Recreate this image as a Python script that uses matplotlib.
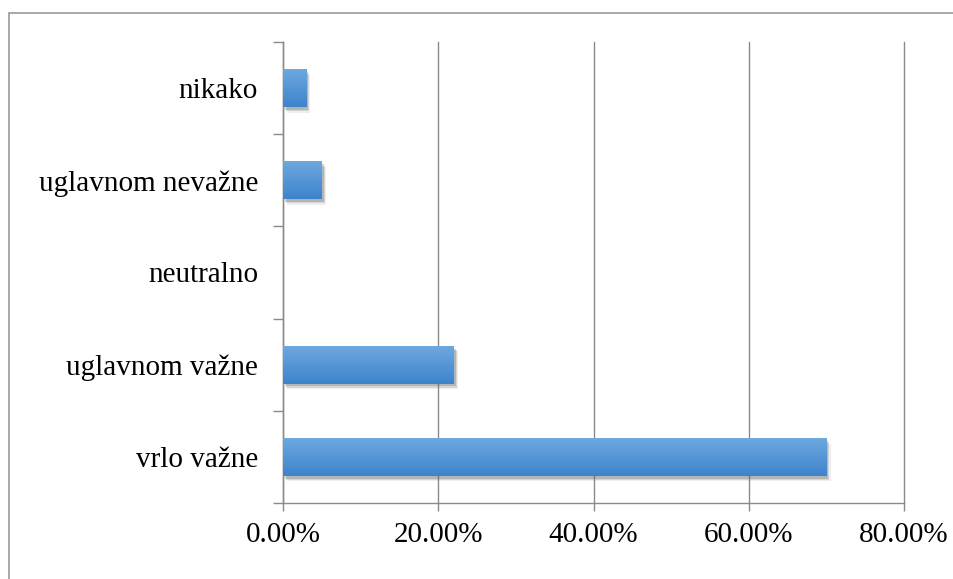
import matplotlib
matplotlib.use('Agg')
import matplotlib.pyplot as plt
import matplotlib.patheffects as pe
from matplotlib.patches import Rectangle
from matplotlib.ticker import FuncFormatter, FixedLocator
import numpy as np

categories = ['vrlo važne', 'uglavnom važne', 'neutralno', 'uglavnom nevažne', 'nikako']
shares = [70.0, 22.0, 0.0, 5.0, 3.0]
x_ticks = [0, 20, 40, 60, 80]

plt.rcParams['font.family'] = ['Liberation Serif', 'DejaVu Serif']

fig = plt.figure(figsize=(9.54, 5.79), dpi=100)
ax = fig.add_axes([283 / 954, 1 - 503 / 579, (904 - 283) / 954, (503 - 42) / 579])

# outer chart frame (runs off the right and bottom edges)
fig.patches.append(Rectangle((9 / 954, -0.05), 1.2, 1 - 13 / 579 + 0.05,
                             transform=fig.transFigure, fill=False,
                             edgecolor='#9a9a9a', linewidth=1.2))

y = np.arange(len(categories))
bars = ax.barh(y, shares, height=0.41, color='#4f8fd6', zorder=3)

# gradient fill + soft shadow like the spreadsheet style
grad = np.linspace(0, 1, 64).reshape(-1, 1)
cmap = matplotlib.colors.LinearSegmentedColormap.from_list('b', ['#3d83cc', '#6ea8e0'])
for b in bars:
    if b.get_width() <= 0:
        continue
    b.set_path_effects([pe.SimplePatchShadow(offset=(3, -4), shadow_rgbFace='#777777', alpha=0.12),
                        pe.SimplePatchShadow(offset=(2.2, -3), shadow_rgbFace='#666666', alpha=0.18),
                        pe.SimplePatchShadow(offset=(1.4, -2), shadow_rgbFace='#555555', alpha=0.25),
                        pe.Normal()])
    x0, y0 = b.get_x(), b.get_y()
    w, h = b.get_width(), b.get_height()
    im = ax.imshow(grad, extent=(x0, x0 + w, y0, y0 + h), origin='lower',
                   cmap=cmap, aspect='auto', zorder=4, interpolation='bicubic')
    im.set_clip_path(b)

ax.set_xlim(0, 80)
ax.set_ylim(-0.5, len(categories) - 0.5)
ax.set_xticks(x_ticks)
ax.xaxis.set_major_formatter(FuncFormatter(lambda v, p: f'{v:.2f}%'))
ax.set_yticks(y)
ax.set_yticklabels(categories)
ax.yaxis.set_minor_locator(FixedLocator(np.arange(-0.5, len(categories), 1.0)))

ax.grid(axis='x', color='#8a8a8a', linewidth=1.0, zorder=0)
ax.set_axisbelow(True)
for gl in ax.xaxis.get_gridlines():
    gl.set_clip_on(False)
for s in ['top', 'right']:
    ax.spines[s].set_visible(False)
for s in ['left', 'bottom']:
    ax.spines[s].set_color('#8a8a8a')
    ax.spines[s].set_linewidth(1.0)

ax.tick_params(axis='y', which='major', length=0, pad=18, labelsize=21)
ax.tick_params(axis='y', which='minor', length=7, color='#8a8a8a', width=1.0)
ax.tick_params(axis='x', which='major', length=6, color='#8a8a8a', width=1.0, pad=8, labelsize=21)

fig.savefig('out.png', dpi=100)
